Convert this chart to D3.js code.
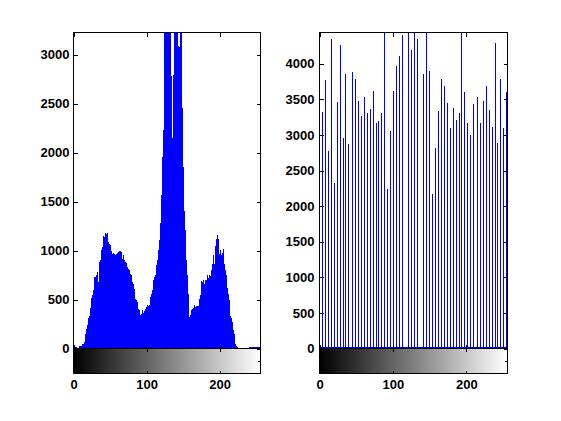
<!DOCTYPE html>
<html>
<head>
<meta charset="utf-8">
<script src="https://cdn.jsdelivr.net/npm/d3@7"></script>
<style>
    body { margin: 0; background: #fff; }
    svg { display: block; }
    text { font-family: "Liberation Sans", Arial, Helvetica, sans-serif; font-weight: bold; font-size: 13px; }
</style>
</head>
<body>
<script>
// histogram of the original image, counts for gray levels 0..255
const origCounts = [
    17, 20, 15, 18, 16, 8, 6, 9, 22, 27, 25, 30, 38, 41, 45, 62,
    90, 153, 200, 235, 262, 310, 330, 418, 476, 520, 544, 568, 602, 731, 728, 724,
    748, 782, 680, 867, 880, 901, 986, 1010, 1037, 1146, 1140, 1122, 1183, 1170, 1156, 1183,
    1088, 1070, 1054, 1020, 1000, 969, 959, 976, 962, 955, 952, 969, 975, 986, 976, 996,
    990, 976, 986, 918, 930, 952, 901, 884, 870, 850, 830, 816, 806, 748, 760, 748,
    697, 680, 663, 612, 578, 510, 493, 476, 442, 408, 398, 391, 340, 357, 374, 391,
    364, 380, 408, 398, 420, 442, 432, 435, 442, 493, 527, 560, 595, 646, 700, 731,
    748, 799, 850, 901, 952, 1003, 1105, 1280, 1479, 1564, 1955, 2227, 3030, 3400, 3500, 3600,
    3450, 3700, 3550, 3400, 3600, 3500, 2780, 2150, 2100, 2790, 3650, 3800, 3500, 3600, 3450, 3700,
    3090, 3080, 3500, 3400, 3300, 2450, 1853, 1666, 1400, 1207, 1071, 900, 748, 560, 408, 323,
    340, 374, 391, 400, 410, 425, 442, 425, 432, 432, 432, 432, 480, 510, 544, 690,
    680, 646, 704, 653, 660, 697, 704, 740, 755, 724, 748, 740, 731, 806, 860, 901,
    952, 867, 1000, 1044, 1122, 1156, 1120, 1071, 969, 1003, 950, 884, 976, 990, 1020, 867,
    800, 748, 748, 620, 561, 493, 340, 330, 316, 272, 221, 187, 146, 120, 51, 30,
    17, 8, 0, 0, 0, 0, 0, 0, 0, 0, 0, 0, 0, 0, 0, 0,
    0, 17, 17, 17, 17, 17, 17, 17, 17, 17, 17, 17, 17, 17, 17, 17
];

// equalized image: the 64 output levels and their counts
const eqLevels = [
    0, 4, 8, 12, 16, 20, 24, 28, 32, 36, 40, 45, 49, 53, 57, 61,
    65, 69, 73, 77, 81, 85, 89, 93, 97, 101, 105, 109, 113, 117, 121, 125,
    130, 134, 138, 142, 146, 150, 154, 158, 162, 166, 170, 174, 178, 182, 186, 190,
    194, 198, 202, 206, 210, 215, 219, 223, 227, 231, 235, 239, 243, 247, 251, 255
];
const eqCounts = [
    0, 3321, 3774, 2769, 4344, 2331, 3462, 4259, 2953, 3863, 2868, 3891, 3788, 3477, 3264, 3533,
    3307, 3368, 3622, 3165, 3194, 3307, 4600, 2246, 3052, 3618, 3972, 4113, 4411, 0, 4700, 4198,
    4550, 4354, 0, 3863, 4800, 3901, 2165, 2812, 3335, 3788, 3689, 3448, 3095, 3378, 3208, 3307,
    4600, 3604, 3165, 2996, 3434, 3533, 3165, 3477, 3689, 3349, 3109, 4297, 2882, 3788, 3095, 3604
];

const leftYTicks = [0, 500, 1000, 1500, 2000, 2500, 3000];
const rightYTicks = [0, 500, 1000, 1500, 2000, 2500, 3000, 3500, 4000];
const xTicks = [0, 100, 200];
const grayLevels = d3.range(256);

let w = 561,
    h = 421;

let svg = d3.select("body")
    .append("svg")
    .attr("width", w)
    .attr("height", h);

const drawPanel = (id, opt) => {
    let x = d3.scaleLinear().domain([0, 256]).range([opt.left, opt.right]);
    let y = d3.scaleLinear().domain([0, opt.ymax]).range([opt.bottom, opt.top]);
    let cbY = d3.scaleLinear().domain([0, 1]).range([opt.cbBottom, opt.bottom]);

    let g = svg.append("g");

    svg.append("clipPath")
        .attr("id", id)
        .append("rect")
        .attr("x", opt.left)
        .attr("y", opt.top)
        .attr("width", opt.right - opt.left)
        .attr("height", opt.bottom - opt.top);

    let plot = g.append("g").attr("clip-path", `url(#${id})`);

    // baseline of stem plot
    if (opt.baseline) {
        plot.append("line")
            .attr("x1", opt.left)
            .attr("x2", opt.right)
            .attr("y1", y(0) - 1)
            .attr("y2", y(0) - 1)
            .attr("stroke", "#0000ff")
            .attr("shape-rendering", "crispEdges");
    }

    // stems
    plot.selectAll("line.stem")
        .data(opt.data)
        .enter()
        .append("line")
        .attr("class", "stem")
        .attr("x1", d => x(d[0]))
        .attr("x2", d => x(d[0]))
        .attr("y1", y(0))
        .attr("y2", d => y(d[1]))
        .attr("stroke", "#0000ff")
        .attr("stroke-width", 1)
        .attr("shape-rendering", "crispEdges");

    // gray colorbar under the histogram
    g.selectAll("rect.cb")
        .data(grayLevels)
        .enter()
        .append("rect")
        .attr("class", "cb")
        .attr("x", d => x(d))
        .attr("width", d => x(d + 1) - x(d) + 0.5)
        .attr("y", opt.bottom)
        .attr("height", opt.cbBottom - opt.bottom)
        .attr("fill", d => d3.rgb(d, d, d))
        .attr("shape-rendering", "crispEdges");

    // axes, ticks inside like matlab
    let axes = g.append("g").attr("shape-rendering", "crispEdges");
    let fmt = d3.format("d");

    axes.append("g")
        .attr("transform", `translate(${opt.left},0)`)
        .call(d3.axisLeft(y).tickValues(opt.yTicks).tickFormat(fmt).tickSizeInner(-4).tickSizeOuter(0).tickPadding(opt.pad));
    axes.append("g")
        .attr("transform", `translate(${opt.right},0)`)
        .call(d3.axisRight(y).tickValues(opt.yTicks).tickSizeInner(-4).tickSizeOuter(0).tickFormat(""));
    axes.append("g")
        .attr("transform", `translate(0,${opt.top})`)
        .call(d3.axisTop(x).tickValues(xTicks).tickSizeInner(-4).tickSizeOuter(0).tickFormat(""));
    axes.append("g")
        .attr("transform", `translate(0,${opt.bottom})`)
        .call(d3.axisBottom(x).tickValues(xTicks).tickSizeInner(-4).tickSizeOuter(0).tickFormat(""));

    // colorbar axes
    axes.append("g")
        .attr("transform", `translate(0,${opt.bottom})`)
        .call(d3.axisTop(x).tickValues(xTicks).tickSizeInner(-3).tickSizeOuter(0).tickFormat(""));
    axes.append("g")
        .attr("transform", `translate(0,${opt.cbBottom})`)
        .call(d3.axisBottom(x).tickValues(xTicks).tickFormat(fmt).tickSizeInner(-3).tickSizeOuter(0).tickPadding(6));
    axes.append("g")
        .attr("transform", `translate(${opt.right},0)`)
        .call(d3.axisRight(cbY).tickValues([0.5]).tickSizeInner(-3).tickSizeOuter(0).tickFormat(""));

    axes.selectAll(".domain").remove();
    axes.selectAll(".tick line").attr("stroke", "#000");
    axes.selectAll("text").attr("fill", "#000");

    // boxes
    axes.append("rect")
        .attr("x", opt.left)
        .attr("y", opt.top)
        .attr("width", opt.right - opt.left)
        .attr("height", opt.cbBottom - opt.top)
        .attr("fill", "none")
        .attr("stroke", "#000");
    axes.append("line")
        .attr("x1", opt.left)
        .attr("x2", opt.right)
        .attr("y1", opt.bottom)
        .attr("y2", opt.bottom)
        .attr("stroke", "#000");
};

drawPanel("clipL", {
    left: 73.5, right: 260.5, top: 32.5, bottom: 348.5, cbBottom: 373.5,
    ymax: 3225, yTicks: leftYTicks, pad: 4, baseline: false,
    data: origCounts.map((c, i) => [grayLevels[i], c])
});

drawPanel("clipR", {
    left: 319.5, right: 507.5, top: 32.5, bottom: 348.5, cbBottom: 373.5,
    ymax: 4440, yTicks: rightYTicks, pad: 5, baseline: true,
    data: eqCounts.map((c, i) => [eqLevels[i], c])
});
</script>
</body>
</html>
